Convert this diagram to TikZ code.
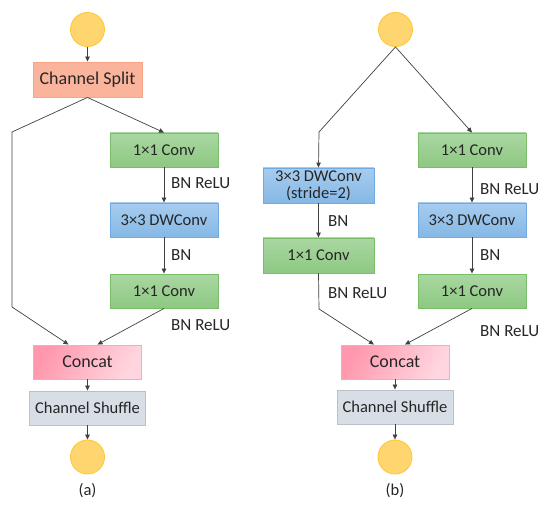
\documentclass[tikz,border=0pt]{standalone}
\usepackage{fontspec}
\setmainfont{Carlito}
\usetikzlibrary{arrows.meta}
\definecolor{lineC}{HTML}{404040}
\definecolor{splitF}{HTML}{F9B49B}
\definecolor{splitD}{HTML}{F8A586}
\definecolor{greenT}{HTML}{AAD7A2}
\definecolor{greenB}{HTML}{8DC882}
\definecolor{greenD}{HTML}{7BBE6A}
\definecolor{blueT}{HTML}{A7CCEE}
\definecolor{blueB}{HTML}{85B8E6}
\definecolor{blueD}{HTML}{6FAAE0}
\definecolor{pinkA}{HTML}{FF98AE}
\definecolor{pinkB}{HTML}{FFD6DF}
\definecolor{pinkD}{HTML}{F9B08E}
\definecolor{shufF}{HTML}{D7DEE6}
\definecolor{shufD}{HTML}{B9C0C8}
\definecolor{ballF}{HTML}{FFD570}
\definecolor{ballD}{HTML}{FFC838}
\tikzset{
  blk/.style={inner sep=0pt,minimum height=34pt,font=\fontsize{16.5}{18}\selectfont,line width=.9pt},
  splitbox/.style={blk,fill=splitF,draw=splitD,minimum width=109pt,minimum height=35pt,font=\fontsize{18}{20}\selectfont},
  convbox/.style={blk,top color=greenT,bottom color=greenB,draw=greenD,minimum width=108pt},
  dwbox/.style={blk,top color=blueT,bottom color=blueB,draw=blueD,minimum width=108pt},
  catbox/.style={blk,left color=pinkA,right color=pinkB,shading angle=60,draw=pinkD,minimum width=108pt,font=\fontsize{18}{20}\selectfont},
  shufbox/.style={blk,fill=shufF,draw=shufD,minimum width=116pt},
  ball/.style={circle,fill=ballF,draw=ballD,line width=.9pt,minimum size=34pt,inner sep=0pt},
  lbl/.style={anchor=west,inner sep=0pt,font=\fontsize{17}{19}\selectfont},
  con/.style={draw=lineC,line width=.7pt},
  arr/.style={con,-{Triangle[length=5pt,width=4.5pt]}},
}
\begin{document}
\begin{tikzpicture}[x=1pt,y=-1pt,text=black!85]
\path[use as bounding box] (0,0) rectangle (550,511);
% (a)
\node[ball] (ainB) at (87.5,29.5) {};
\node[splitbox] (asplit) at (87.5,79.5) {Channel Split};
\node[convbox] (aconvA) at (164,150) {1×1 Conv};
\node[dwbox] (adw) at (164,220) {3×3 DWConv};
\node[convbox] (aconvB) at (164,291) {1×1 Conv};
\node[catbox] (acat) at (87.5,362) {Concat};
\node[shufbox] (ashuf) at (87.5,408) {Channel Shuffle};
\node[ball] (aoutB) at (87.5,457) {};
\node[inner sep=0pt,font=\fontsize{16.5}{18}\selectfont] (acap) at (87.5,491) {(a)};
\node[lbl] (alA) at (171,183) {BN ReLU};
\node[lbl] (alB) at (171,255) {BN};
\node[lbl] (alC) at (171,325) {BN ReLU};
\coordinate (akA) at (12,132);
\coordinate (akB) at (12,307);
\draw[arr] (ainB) -- (asplit);
\draw[con] (asplit.south) -- (akA) -- (akB);
\draw[arr] (akB) -- ([xshift=-19pt]acat.north);
\draw[arr] (asplit.south) -- (aconvA.north);
\draw[arr] (aconvA) -- (adw);
\draw[arr] (adw) -- (aconvB);
\draw[arr] (aconvB.south) -- ([xshift=10pt]acat.north);
\draw[arr] (acat) -- (ashuf);
\draw[arr] (ashuf) -- (aoutB);
% (b)
\node[ball] (binB) at (395.5,29.5) {};
\node[dwbox,minimum width=111pt,minimum height=35pt,align=center,font=\fontsize{16.5}{17}\selectfont] (bdwL) at (318.5,185.5) {3×3 DWConv\\(stride=2)};
\node[convbox,minimum width=111pt,minimum height=35pt] (bconvL) at (318.5,255.5) {1×1 Conv};
\node[convbox] (bconvA) at (472,150) {1×1 Conv};
\node[dwbox] (bdw) at (472,220) {3×3 DWConv};
\node[convbox] (bconvB) at (472,291) {1×1 Conv};
\node[catbox] (bcat) at (395,362) {Concat};
\node[shufbox] (bshuf) at (395,407) {Channel Shuffle};
\node[ball] (boutB) at (395,457) {};
\node[inner sep=0pt,font=\fontsize{16.5}{18}\selectfont] (bcap) at (395,491) {(b)};
\node[lbl] (blL) at (328,221) {BN};
\node[lbl] (blM) at (328,293) {BN ReLU};
\node[lbl] (blA) at (480,189) {BN ReLU};
\node[lbl] (blB) at (480,255) {BN};
\node[lbl] (blC) at (480,331) {BN ReLU};
\coordinate (bkA) at (319,132);
\coordinate (bkB) at (319,309);
\draw[con] (binB.south) -- (bkA);
\draw[arr] (bkA) -- (bdwL.north);
\draw[arr] (binB.south) -- (bconvA.north);
\draw[arr] (bdwL) -- (bconvL);
\draw[con] (bconvL.south) -- (bkB);
\draw[arr] (bkB) -- ([xshift=-21pt]bcat.north);
\draw[arr] (bconvA) -- (bdw);
\draw[arr] (bdw) -- (bconvB);
\draw[arr] (bconvB.south) -- ([xshift=10pt]bcat.north);
\draw[arr] (bcat) -- (bshuf);
\draw[arr] (bshuf) -- (boutB);
\end{tikzpicture}
\end{document}
